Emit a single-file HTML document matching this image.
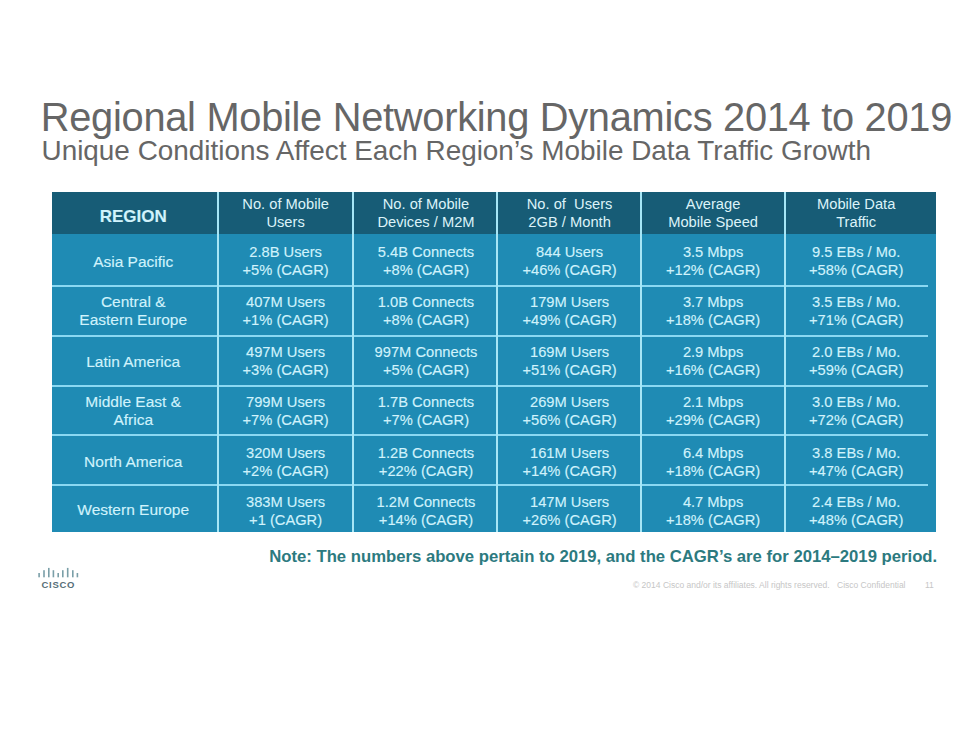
<!DOCTYPE html>
<html><head><meta charset="utf-8">
<style>
html,body{margin:0;padding:0;background:#fff;}
body{width:980px;height:735px;position:relative;overflow:hidden;font-family:"Liberation Sans",sans-serif;}
.t{position:absolute;white-space:nowrap;}
#title{left:40.8px;top:94.5px;font-size:39.8px;letter-spacing:-0.28px;color:#666;}
#sub{left:41.5px;top:134.6px;font-size:27.9px;color:#666;}
.hdr{position:absolute;left:52px;top:192px;width:884px;height:42px;background:#175c76;}
.body{position:absolute;left:52px;top:234px;width:884px;height:298px;background:#1f8bb4;}
.vl{position:absolute;top:192px;height:340px;width:2px;background:#a6e6f6;}
.hl{position:absolute;left:52px;width:876px;height:2px;background:#8ad8f2;}
.c{position:absolute;width:160px;text-align:center;color:#d2f3fc;-webkit-text-stroke:0.15px #c4eef9;font-size:14.7px;line-height:18px;}
.rn{font-size:15.5px;}
.c.h{color:#dcf3f9;-webkit-text-stroke:0;}
.rg{font-weight:bold;font-size:17px;}
#note{left:269.2px;top:547px;font-size:16.7px;font-weight:bold;color:#2c7a7f;}
.ft{position:absolute;white-space:nowrap;top:580px;font-size:8.5px;line-height:10px;color:#c6c6c6;}
#logo{position:absolute;left:0;top:0;}
</style></head><body>
<div class="t" id="title">Regional Mobile Networking Dynamics 2014 to 2019</div>
<div class="t" id="sub">Unique Conditions Affect Each Region’s Mobile Data Traffic Growth</div>
<div class="hdr"></div>
<div class="body"></div>
<div class="hl" style="top:285px"></div>
<div class="hl" style="top:335px"></div>
<div class="hl" style="top:385px"></div>
<div class="hl" style="top:434px"></div>
<div class="hl" style="top:484px"></div>
<div class="vl" style="left:217px"></div>
<div class="vl" style="left:352px"></div>
<div class="vl" style="left:496px"></div>
<div class="vl" style="left:640px"></div>
<div class="vl" style="left:784px"></div>
<!--CELLS-->
<div class="c rg" style="left:53.2px;top:208px">REGION</div>
<div class="c h" style="left:205.6px;top:195px">No. of Mobile<br>Users</div>
<div class="c h" style="left:346.0px;top:195px">No. of Mobile<br>Devices / M2M</div>
<div class="c h" style="left:489.6px;top:195px">No. of &nbsp;Users<br>2GB / Month</div>
<div class="c h" style="left:633.1px;top:195px">Average<br>Mobile Speed</div>
<div class="c h" style="left:776.2px;top:195px">Mobile Data<br>Traffic</div>
<div class="c rn" style="left:53.2px;top:253px">Asia Pacific</div>
<div class="c" style="left:205.6px;top:243px">2.8B Users<br>+5% (CAGR)</div>
<div class="c" style="left:346.0px;top:243px">5.4B Connects<br>+8% (CAGR)</div>
<div class="c" style="left:489.6px;top:243px">844 Users<br>+46% (CAGR)</div>
<div class="c" style="left:633.1px;top:243px">3.5 Mbps<br>+12% (CAGR)</div>
<div class="c" style="left:776.2px;top:243px">9.5 EBs / Mo.<br>+58% (CAGR)</div>
<div class="c rn" style="left:53.2px;top:293px">Central &amp;<br>Eastern Europe</div>
<div class="c" style="left:205.6px;top:293px">407M Users<br>+1% (CAGR)</div>
<div class="c" style="left:346.0px;top:293px">1.0B Connects<br>+8% (CAGR)</div>
<div class="c" style="left:489.6px;top:293px">179M Users<br>+49% (CAGR)</div>
<div class="c" style="left:633.1px;top:293px">3.7 Mbps<br>+18% (CAGR)</div>
<div class="c" style="left:776.2px;top:293px">3.5 EBs / Mo.<br>+71% (CAGR)</div>
<div class="c rn" style="left:53.2px;top:353px">Latin America</div>
<div class="c" style="left:205.6px;top:343px">497M Users<br>+3% (CAGR)</div>
<div class="c" style="left:346.0px;top:343px">997M Connects<br>+5% (CAGR)</div>
<div class="c" style="left:489.6px;top:343px">169M Users<br>+51% (CAGR)</div>
<div class="c" style="left:633.1px;top:343px">2.9 Mbps<br>+16% (CAGR)</div>
<div class="c" style="left:776.2px;top:343px">2.0 EBs / Mo.<br>+59% (CAGR)</div>
<div class="c rn" style="left:53.2px;top:393px">Middle East &amp;<br>Africa</div>
<div class="c" style="left:205.6px;top:393px">799M Users<br>+7% (CAGR)</div>
<div class="c" style="left:346.0px;top:393px">1.7B Connects<br>+7% (CAGR)</div>
<div class="c" style="left:489.6px;top:393px">269M Users<br>+56% (CAGR)</div>
<div class="c" style="left:633.1px;top:393px">2.1 Mbps<br>+29% (CAGR)</div>
<div class="c" style="left:776.2px;top:393px">3.0 EBs / Mo.<br>+72% (CAGR)</div>
<div class="c rn" style="left:53.2px;top:452.5px">North America</div>
<div class="c" style="left:205.6px;top:443.5px">320M Users<br>+2% (CAGR)</div>
<div class="c" style="left:346.0px;top:443.5px">1.2B Connects<br>+22% (CAGR)</div>
<div class="c" style="left:489.6px;top:443.5px">161M Users<br>+14% (CAGR)</div>
<div class="c" style="left:633.1px;top:443.5px">6.4 Mbps<br>+18% (CAGR)</div>
<div class="c" style="left:776.2px;top:443.5px">3.8 EBs / Mo.<br>+47% (CAGR)</div>
<div class="c rn" style="left:53.2px;top:500.5px">Western Europe</div>
<div class="c" style="left:205.6px;top:493px">383M Users<br>+1 (CAGR)</div>
<div class="c" style="left:346.0px;top:493px">1.2M Connects<br>+14% (CAGR)</div>
<div class="c" style="left:489.6px;top:493px">147M Users<br>+26% (CAGR)</div>
<div class="c" style="left:633.1px;top:493px">4.7 Mbps<br>+18% (CAGR)</div>
<div class="c" style="left:776.2px;top:493px">2.4 EBs / Mo.<br>+48% (CAGR)</div>
<!--/CELLS-->
<div class="t" id="note">Note: The numbers above pertain to 2019, and the CAGR’s are for 2014–2019 period.</div>
<div class="ft" style="left:633px">© 2014 Cisco and/or its affiliates. All rights reserved.</div>
<div class="ft" style="left:837px">Cisco Confidential</div>
<div class="ft" style="left:925px">11</div>
<!--LOGO--><svg id="logo" width="100" height="600" viewBox="0 0 100 600" style="position:absolute;left:0;top:0"><g fill="#7a9fa8"><rect x="38.3" y="573" width="1.6" height="4.3"/><rect x="43.2" y="570.2" width="1.6" height="7.1"/><rect x="48.0" y="567.9" width="1.6" height="9.4"/><rect x="52.6" y="570.2" width="1.6" height="7.1"/><rect x="57.4" y="573" width="1.6" height="4.3"/><rect x="62.0" y="570.2" width="1.6" height="7.1"/><rect x="66.9" y="567.9" width="1.6" height="9.4"/><rect x="72.0" y="570.2" width="1.6" height="7.1"/><rect x="76.6" y="573" width="1.6" height="4.3"/></g></svg><div class="t" style="left:41.5px;top:578px;font-size:9.5px;line-height:14px;font-weight:bold;color:#566f78;letter-spacing:0.7px">CISCO</div><!--/LOGO-->
</body></html>
